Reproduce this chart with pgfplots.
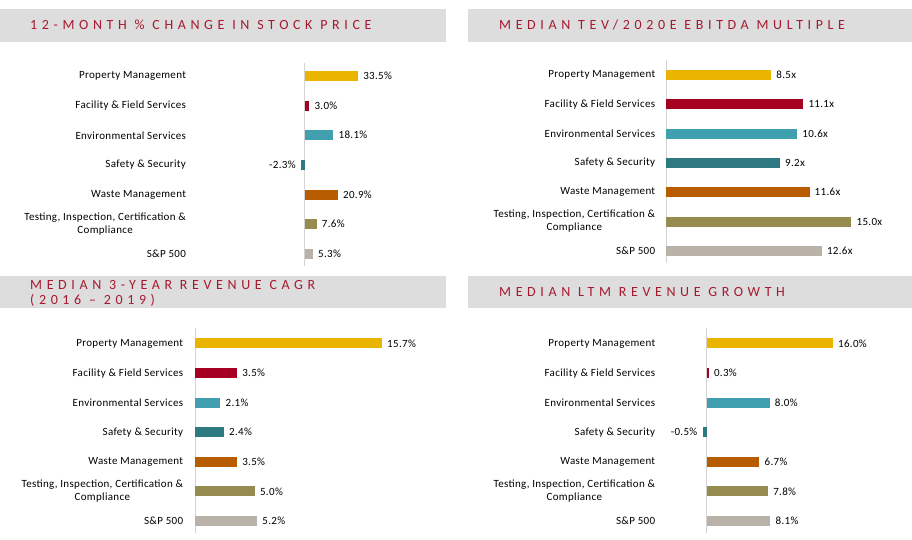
\documentclass[border=0pt]{standalone}
\usepackage{fontspec}
\setmainfont[LetterSpace=3]{Carlito}
\newfontfamily\titlefont[LetterSpace=33]{Carlito}
\usepackage{pgfplots}
\pgfplotsset{compat=1.18}

\definecolor{cPM}{RGB}{235,180,0}
\definecolor{cFF}{RGB}{165,0,33}
\definecolor{cES}{RGB}{64,160,176}
\definecolor{cSS}{RGB}{46,120,130}
\definecolor{cWM}{RGB}{184,92,0}
\definecolor{cTI}{RGB}{150,140,80}
\definecolor{cSP}{RGB}{185,178,168}
\definecolor{titlebg}{RGB}{221,221,221}
\definecolor{titlefg}{RGB}{166,25,46}
\definecolor{zeroline}{RGB}{212,212,212}

\newcommand\lbl{\fontsize{11}{13}\selectfont}
\newcommand\ttl{\titlefont\fontsize{14}{16}\selectfont}

\pgfplotsset{
  panel/.style={
    xbar, bar width=10pt,
    every axis plot/.append style={bar shift=0pt, draw=none},
    scale only axis, clip=false,
    y dir=reverse,
    axis line style={draw=none},
    xtick=\empty, ytick={0,...,6},
    major tick length=0pt,
    yticklabels={Property Management, Facility \& Field Services,
      Environmental Services, Safety \& Security, Waste Management,
      {Testing, Inspection, Certification \&\\Compliance}, S\&P 500},
    yticklabel style={align=center, font=\lbl, text=black},
    every node near coord/.append style={font=\lbl, text=black, inner xsep=5pt},
    /pgf/number format/assume math mode=true,
  },
  pct/.style={nodes near coords={\pgfmathprintnumber[fixed,fixed zerofill,precision=1]{\pgfplotspointmeta}\%}},
  mult/.style={nodes near coords={\pgfmathprintnumber[fixed,fixed zerofill,precision=1]{\pgfplotspointmeta}x}},
}

\begin{document}
\begin{tikzpicture}
\useasboundingbox (0,0) rectangle (912pt,-540pt);

% title bars
\fill[titlebg] (0,-9pt) rectangle (446pt,-42pt);
\fill[titlebg] (468pt,-9pt) rectangle (912pt,-42pt);
\fill[titlebg] (0,-276pt) rectangle (446pt,-307.5pt);
\fill[titlebg] (468pt,-276pt) rectangle (912pt,-307.5pt);
\node[anchor=base west, inner sep=0, text=titlefg, font=\ttl] at (30pt,-29.3pt) {12-MONTH \% CHANGE IN STOCK PRICE};
\node[anchor=base west, inner sep=0, text=titlefg, font=\ttl] at (499pt,-29.3pt) {MEDIAN TEV/2020E EBITDA MULTIPLE};
\node[anchor=base west, inner sep=0, text=titlefg, font=\ttl] at (30pt,-289pt) {MEDIAN 3-YEAR REVENUE CAGR};
\node[anchor=base west, inner sep=0, text=titlefg, font=\ttl] at (30pt,-304.3pt) {(2016 – 2019)};
\node[anchor=base west, inner sep=0, text=titlefg, font=\ttl] at (499pt,-296.7pt) {MEDIAN LTM REVENUE GROWTH};

% 12-month % change in stock price
\begin{axis}[panel, pct, at={(189.5pt,-62.6pt)}, anchor=north west,
  width=179pt, height=203.2pt, xmin=-71.9, xmax=40, ymin=-0.45, ymax=6.4]
\draw[zeroline, line width=0.8pt] (axis cs:0,-0.45) -- (axis cs:0,6.4);
\addplot[fill=cPM] coordinates {(33.5,0)};
\addplot[fill=cFF] coordinates {(3.0,1)};
\addplot[fill=cES] coordinates {(18.1,2)};
\addplot[fill=cSS] coordinates {(-2.3,3)};
\addplot[fill=cWM] coordinates {(20.9,4)};
\addplot[fill=cTI] coordinates {(7.6,5)};
\addplot[fill=cSP] coordinates {(5.3,6)};
\end{axis}

% median TEV/2020E EBITDA multiple
\begin{axis}[panel, mult, at={(658.7pt,-60.35pt)}, anchor=north west,
  width=229.7pt, height=202.2pt, xmin=-0.63, xmax=18, ymin=-0.5, ymax=6.4]
\draw[zeroline, line width=0.8pt] (axis cs:0,-0.5) -- (axis cs:0,6.4);
\addplot[fill=cPM] coordinates {(8.5,0)};
\addplot[fill=cFF] coordinates {(11.1,1)};
\addplot[fill=cES] coordinates {(10.6,2)};
\addplot[fill=cSS] coordinates {(9.2,3)};
\addplot[fill=cWM] coordinates {(11.6,4)};
\addplot[fill=cTI] coordinates {(15.0,5)};
\addplot[fill=cSP] coordinates {(12.6,6)};
\end{axis}

% median 3-year revenue CAGR
\begin{axis}[panel, pct, at={(186.7pt,-328.1pt)}, anchor=north west,
  width=246.4pt, height=204.7pt, xmin=-0.74, xmax=20, ymin=-0.52, ymax=6.4]
\draw[zeroline, line width=0.8pt] (axis cs:0,-0.52) -- (axis cs:0,6.4);
\addplot[fill=cPM] coordinates {(15.7,0)};
\addplot[fill=cFF] coordinates {(3.5,1)};
\addplot[fill=cES] coordinates {(2.1,2)};
\addplot[fill=cSS] coordinates {(2.4,3)};
\addplot[fill=cWM] coordinates {(3.5,4)};
\addplot[fill=cTI] coordinates {(5.0,5)};
\addplot[fill=cSP] coordinates {(5.2,6)};
\end{axis}

% median LTM revenue growth
\begin{axis}[panel, pct, at={(658.7pt,-328.1pt)}, anchor=north west,
  width=205.8pt, height=204.7pt, xmin=-6.05, xmax=20, ymin=-0.52, ymax=6.4]
\draw[zeroline, line width=0.8pt] (axis cs:0,-0.52) -- (axis cs:0,6.4);
\addplot[fill=cPM] coordinates {(16.0,0)};
\addplot[fill=cFF] coordinates {(0.3,1)};
\addplot[fill=cES] coordinates {(8.0,2)};
\addplot[fill=cSS] coordinates {(-0.5,3)};
\addplot[fill=cWM] coordinates {(6.7,4)};
\addplot[fill=cTI] coordinates {(7.8,5)};
\addplot[fill=cSP] coordinates {(8.1,6)};
\end{axis}
\end{tikzpicture}
\end{document}
